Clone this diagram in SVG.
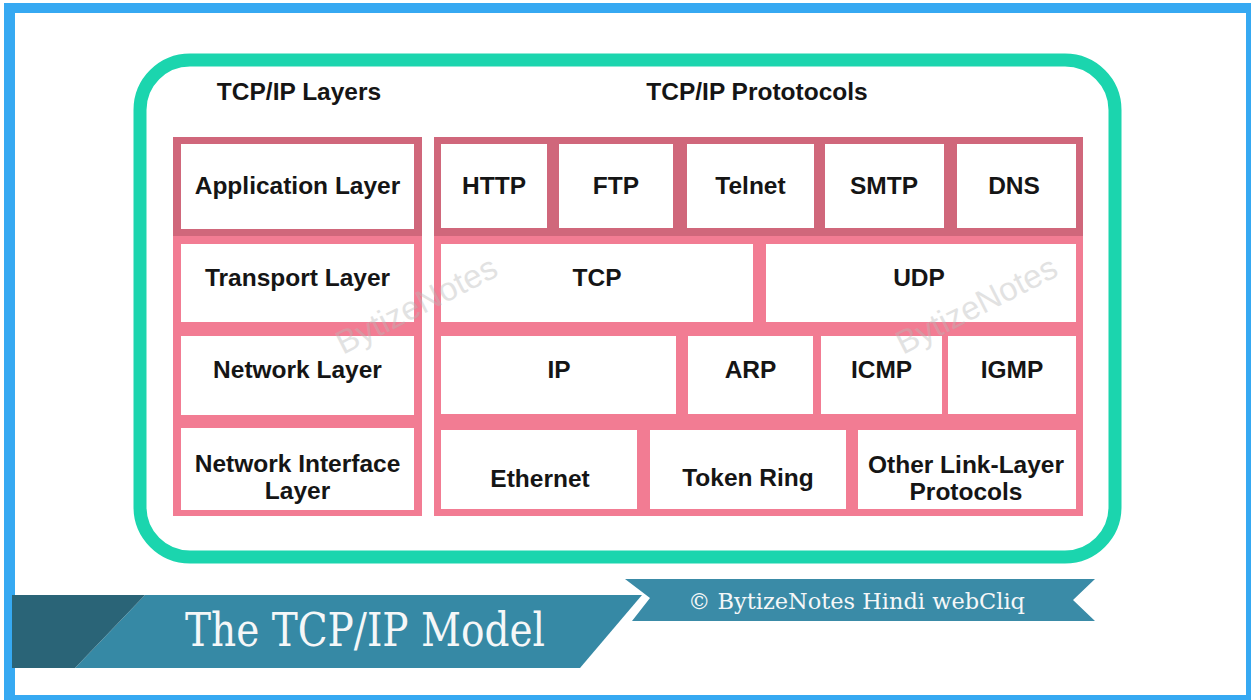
<svg xmlns="http://www.w3.org/2000/svg" width="1251" height="700" viewBox="0 0 1251 700">
<style>
.t{font-family:"Liberation Sans",Arial,sans-serif;font-weight:bold;font-size:24.5px;fill:#151515;text-anchor:middle}
.cell{fill:#ffffff}
.dark{fill:#d0677b}
.light{fill:#f27c93}
.wm{font-family:"Liberation Sans",Arial,sans-serif;font-size:33px;fill:#b8b8b8;opacity:0.4}
.ser{font-family:"DejaVu Serif","Liberation Serif",serif;fill:#f5f7f8}
</style>
<rect x="0" y="0" width="1251" height="700" fill="#ffffff"/>
<rect x="4" y="3" width="1247" height="697" fill="#36a9f2"/>
<rect x="15" y="13" width="1231" height="682" fill="#ffffff"/>
<g id="frame">
<rect x="140" y="60" width="975" height="497" rx="50" fill="none" stroke="#1bd5ae" stroke-width="13"/>
</g>
<g id="headings">
<text class="t" x="299" y="100">TCP/IP Layers</text>
<text class="t" x="757" y="100">TCP/IP Prototocols</text>
</g>
<g id="row-frames">
<rect class="dark" x="173" y="137" width="249" height="99"/>
<rect class="light" x="173" y="236" width="249" height="280"/>
<rect class="dark" x="434" y="137" width="649" height="99"/>
<rect class="light" x="434" y="236" width="649" height="280"/>
</g>
<g id="application-layer"><rect class="cell" x="181" y="144" width="233" height="85"/><text class="t" x="297.5" y="194">Application Layer</text></g>
<g id="transport-layer"><rect class="cell" x="181" y="244" width="233" height="78"/><text class="t" x="297.5" y="286">Transport Layer</text></g>
<g id="network-layer"><rect class="cell" x="181" y="336" width="233" height="79"/><text class="t" x="297.5" y="378">Network Layer</text></g>
<g id="network-interface-layer"><rect class="cell" x="181" y="428" width="233" height="82"/><text class="t" x="297.5" y="472">Network Interface</text><text class="t" x="297.5" y="499">Layer</text></g>
<g id="http"><rect class="cell" x="441" y="144" width="106" height="84"/><text class="t" x="494" y="194">HTTP</text></g>
<g id="ftp"><rect class="cell" x="559" y="144" width="114" height="84"/><text class="t" x="616" y="194">FTP</text></g>
<g id="telnet"><rect class="cell" x="687" y="144" width="127" height="84"/><text class="t" x="750.5" y="194">Telnet</text></g>
<g id="smtp"><rect class="cell" x="825" y="144" width="119" height="84"/><text class="t" x="884" y="194">SMTP</text></g>
<g id="dns"><rect class="cell" x="957" y="144" width="119" height="84"/><text class="t" x="1014" y="194">DNS</text></g>
<g id="tcp"><rect class="cell" x="441" y="244" width="312" height="78"/><text class="t" x="597" y="286">TCP</text></g>
<g id="udp"><rect class="cell" x="766" y="244" width="310" height="78"/><text class="t" x="919" y="286">UDP</text></g>
<g id="ip"><rect class="cell" x="441" y="336" width="235" height="78"/><text class="t" x="559" y="378">IP</text></g>
<g id="arp"><rect class="cell" x="688" y="336" width="125" height="78"/><text class="t" x="750.5" y="378">ARP</text></g>
<g id="icmp"><rect class="cell" x="821" y="336" width="121" height="78"/><text class="t" x="881.5" y="378">ICMP</text></g>
<g id="igmp"><rect class="cell" x="948" y="336" width="128" height="78"/><text class="t" x="1012" y="378">IGMP</text></g>
<g id="ethernet"><rect class="cell" x="441" y="430" width="196" height="79"/><text class="t" x="540" y="487">Ethernet</text></g>
<g id="token-ring"><rect class="cell" x="650" y="430" width="196" height="79"/><text class="t" x="748" y="486">Token Ring</text></g>
<g id="other-link-layer"><rect class="cell" x="858" y="430" width="218" height="79"/><text class="t" x="966" y="473">Other Link-Layer</text><text class="t" x="966" y="500">Protocols</text></g>
<g id="connectors"></g>
<g id="watermarks">
<text class="wm" transform="translate(343,355) rotate(-27)">BytizeNotes</text>
<text class="wm" transform="translate(903,355) rotate(-27)">BytizeNotes</text>
</g>
<g id="banner">
<polygon points="625,579 1095,579 1073,600 1095,621 632,621 650,598" fill="#3a8ba7"/>
<polygon points="145,595 642,595 580,668 75,668" fill="#3689a5"/>
<polygon points="12,595 145,595 75,668 12,668" fill="#2a6477"/>
<text class="ser" x="185" y="646" font-size="46" textLength="360" lengthAdjust="spacingAndGlyphs">The TCP/IP Model</text>
<text class="ser" x="688" y="609" font-size="22" textLength="337" lengthAdjust="spacingAndGlyphs">© BytizeNotes Hindi webCliq</text>
</g>
</svg>
